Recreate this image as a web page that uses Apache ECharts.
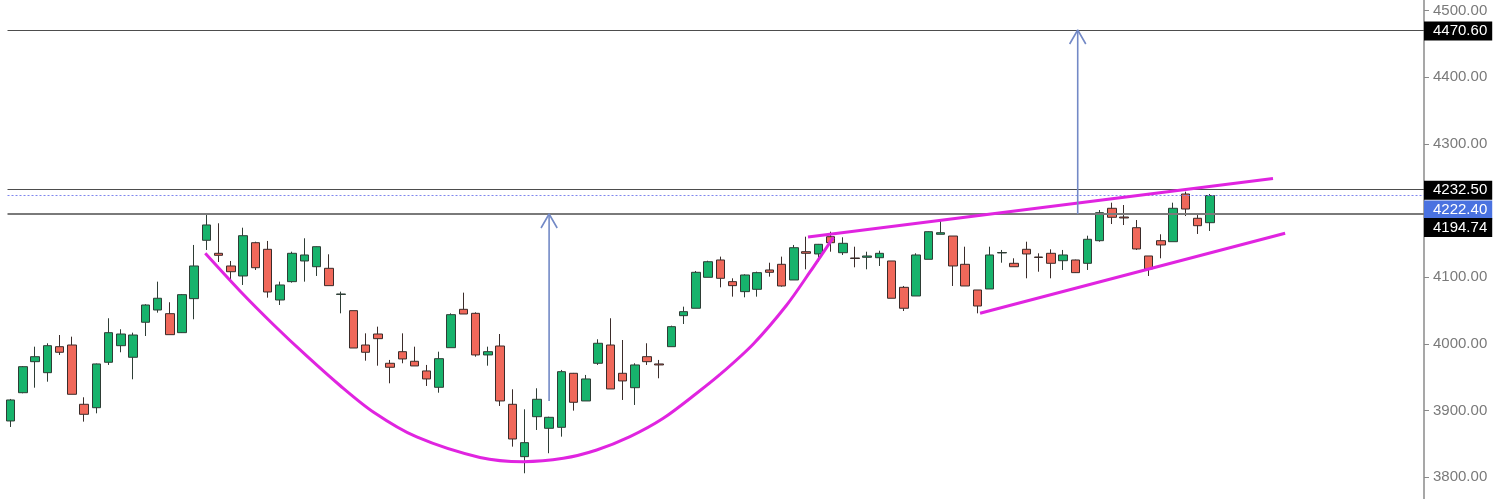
<!DOCTYPE html>
<html>
<head>
<meta charset="utf-8">
<script src="https://cdn.jsdelivr.net/npm/echarts@6/dist/echarts.min.js"></script>
<style>
html,body{margin:0;padding:0;background:#fff;overflow:hidden;}
#chart{width:1500px;height:499px;}
</style>
</head>
<body>
<div id="chart"></div>
<script>
// ---- data ----
const slotCount = 116; // 99 trading sessions + empty space to the right
const categories = Array.from({length: slotCount}, (_, i) => String(i + 1));

// [open, close, low, high]
const ohlc = [
[3884.4,3915.9,3875.4,3917.4],[3926.8,3965.8,3925.9,3966.8],[3973.3,3980.8,3934.3,3995.8],[3956.8,3997.3,3943.3,4000.9],
[3995.8,3987.4,3983.4,4013.3],[3998.3,3924.4,3924.4,4010.8],[3909.4,3894.4,3883.4,3919.9],[3904.3,3969.9,3895.9,3970.5],
[3972.4,4016.8,3968.4,4038.4],[3997.3,4014.8,3987.4,4021.9],[3979.9,4013.3,3946.9,4016.8],[4032.4,4058.3,4011.8,4059.4],
[4050.8,4068.4,4046.8,4093.3],[4045.3,4013.8,4013.8,4062.4],[4016.8,4073.8,4016.3,4074.8],[4067.8,4116.8,4036.9,4148.3],
[4155.3,4178.3,4140.8,4193.2],[4135.8,4132.8,4122.8,4180.8],[4116.8,4108.2,4093.3,4124.3],[4101.8,4162.2,4088.3,4174.2],
[4151.7,4114.2,4110.8,4153.2],[4141.8,4077.8,4069.3,4154.3],[4065.8,4088.3,4058.3,4093.3],[4093.3,4135.8,4091.8,4138.2],
[4124.3,4133.3,4093.3,4158.3],[4115.7,4145.7,4101.8,4146.2],[4113.3,4087.3,4087.3,4134.3],[4074.1,4074.8,4045.8,4078.3],
[4049.8,3993.8,3993.8,4049.8],[3998.3,3987.4,3974.8,4015.8],[4014.8,4007.8,3967.3,4025.8],[3970.9,3964.9,3940.9,3975.9],
[3988.3,3977.4,3970.9,4015.8],[3973.9,3966.9,3966.9,3995.8],[3959.4,3947.4,3936.9,3968.4],[3934.9,3977.8,3926.8,3988.3],
[3994.3,4043.8,3994.3,4045.8],[4051.8,4044.8,4044.8,4076.8],[4045.8,3983.4,3980.8,4047.3],[3983.4,3988.3,3967.3,3995.8],
[3996.8,3914.4,3906.9,4014.8],[3909.4,3857.4,3845.9,3931.9],[3830.9,3851.9,3806.0,3901.9],[3890.8,3916.9,3870.9,3933.4],
[3873.4,3889.9,3836.0,3890.8],[3874.9,3958.3,3860.9,3960.9],[3955.9,3912.4,3899.9,3956.4],[3914.4,3947.4,3914.4,3953.4],
[3970.9,4000.9,3968.4,4006.9],[3998.3,3932.4,3932.4,4038.4],[3955.9,3944.4,3915.9,4005.8],[3934.3,3968.4,3908.4,3970.9],
[3980.8,3973.3,3968.4,4000.9],[3969.9,3968.4,3948.4,3975.9],[3995.8,4025.8,3995.8,4027.3],[4042.3,4048.3,4029.8,4055.8],
[4053.4,4107.3,4053.4,4109.3],[4099.8,4123.2,4099.8,4124.7],[4125.8,4098.3,4084.8,4130.8],[4093.3,4087.3,4070.8,4098.3],
[4078.3,4103.3,4069.8,4104.3],[4081.8,4106.8,4070.8,4108.3],[4110.8,4107.3,4100.8,4121.7],[4119.3,4086.8,4085.8,4130.8],
[4095.8,4144.2,4095.8,4148.3],[4138.2,4135.8,4111.8,4160.7],[4134.8,4149.3,4123.2,4149.8],[4160.7,4151.7,4138.2,4168.2],
[4136.7,4150.8,4133.3,4159.8],[4128.8,4128.0,4114.8,4145.7],[4129.8,4131.8,4111.8,4138.2],[4129.2,4135.8,4116.8,4139.7],
[4124.3,4068.4,4068.4,4124.3],[4084.8,4053.4,4049.3,4086.8],[4071.8,4133.3,4071.8,4135.8],[4126.8,4168.2,4126.8,4168.7],
[4164.3,4166.7,4164.3,4185.7],[4161.7,4116.8,4086.8,4161.7],[4119.3,4086.8,4086.8,4145.7],[4080.8,4056.8,4045.8,4080.8],
[4082.3,4133.3,4082.3,4145.7],[4136.3,4137.0,4121.7,4140.8],[4120.8,4115.7,4115.7,4128.3],[4141.8,4134.8,4098.3,4153.2],
[4130.3,4129.5,4108.2,4135.8],[4135.8,4120.8,4098.3,4141.8],[4124.7,4133.3,4110.8,4140.8],[4125.8,4106.8,4106.3,4126.3],
[4120.8,4156.8,4110.8,4162.2],[4154.7,4196.7,4153.2,4200.7],[4203.3,4189.8,4179.7,4211.7],[4190.2,4188.8,4178.2,4208.2],
[4174.2,4142.3,4140.8,4185.7],[4131.8,4112.3,4101.8,4131.8],[4154.7,4148.3,4128.3,4164.3],[4153.2,4203.3,4153.2,4211.7],
[4224.7,4202.2,4191.7,4228.2],[4188.3,4177.2,4164.8,4193.2],[4181.7,4222.4,4169.3,4224.7]
];

// horizontal levels
const targetLevel = 4470.60;
const resistanceHigh = 4232.50;
const lastPrice = 4222.40;
const necklineLevel = 4194.74;

// y-axis range and tick labels
const yMin = 3767.4, yMax = 4515.6;
const yTicks = [3800, 3900, 4000, 4100, 4200, 4300, 4400, 4500];

// cup curve (session index, price)
const cupX = [15.90,18.74,21.46,24.19,26.91,29.63,33.18,38.35,41.89,45.16,47.89,50.61,53.33,56.06,57.97,60.69,63.42,65.32,67.23];
const cupY = [4135.8,4079.3,4029.1,3981.9,3937.6,3897.9,3860.4,3829.7,3823.4,3828.4,3840.9,3860.9,3888.4,3925.9,3954.1,3999.9,4058.3,4107.8,4159.8];

// wedge trend lines
const upperLineX = [65.16, 103.16];
const upperLineY = [4160.3, 4248.1];
const lowerLineX = [79.22, 104.15];
const lowerLineY = [4045.9, 4165.9];

// measured-move arrows
const arrow1X = 44.0, arrow1From = 3914.4, arrow1To = 4194.74;
const arrow2X = 87.2, arrow2From = 4194.74, arrow2To = 4470.6;
const headHalfWidth = 0.66, headDrop = 21;

const levelStartX = -0.26, levelEndX = slotCount - 0.5;

// ---- build ----
const zip = (xs, ys) => xs.map((x, i) => [x, ys[i]]);
const MAG = '#e024e0';
const ARROW = '#7389c6';
const FONT = '"Liberation Sans", Arial, sans-serif';

function lineSeries(data, color, width, extra) {
  return Object.assign({
    type: 'line', xAxisIndex: 1, yAxisIndex: 0, data: data,
    symbol: 'none', silent: true, animation: false,
    lineStyle: {color: color, width: width}, z: 5
  }, extra || {});
}

function arrowSeries(x, from, to) {
  return [
    lineSeries([[x, from], [x, to]], ARROW, 1.6),
    lineSeries([[x - headHalfWidth, to - headDrop], [x, to], [x + headHalfWidth, to - headDrop]], ARROW, 1.6)
  ];
}

function levelMark(value, color, width, type, boxColor, dy) {
  return [{
    coord: [levelStartX, value],
    lineStyle: {color: color, width: width, type: type},
    label: {
      show: true, position: 'end', distance: 0,
      formatter: value.toFixed(2),
      color: '#fff', backgroundColor: boxColor,
      fontFamily: FONT, fontSize: 15, lineHeight: 15,
      padding: [2, 5, 2, 9], offset: [0, dy]
    }
  }, {coord: [levelEndX, value]}];
}

const series = [
  {
    type: 'candlestick', xAxisIndex: 0, yAxisIndex: 0, data: ohlc,
    barWidth: 9, animation: false, silent: true, z: 3,
    itemStyle: {
      color: '#17b36c', color0: '#f0685a',
      borderColor: '#2e3d35', borderColor0: '#3b2c2a', borderWidth: 1
    }
  },
  {
    type: 'line', xAxisIndex: 1, yAxisIndex: 0, data: [], symbol: 'none', silent: true, animation: false,
    markLine: {
      symbol: ['none', 'none'], silent: true, animation: false, z: 4,
      data: [
        levelMark(targetLevel, '#4d4d4d', 1.2, 'solid', '#000', 1),
        levelMark(resistanceHigh, '#4d4d4d', 1.2, 'solid', '#000', 1.5),
        levelMark(lastPrice, '#7f86ee', 1, [2, 2], '#4a72e0', 14.5),
        levelMark(necklineLevel, '#7a7a7a', 2, 'solid', '#000', 13.5)
      ]
    }
  },
  lineSeries(zip(cupX, cupY), MAG, 3, {smooth: 0.3}),
  lineSeries(zip(upperLineX, upperLineY), MAG, 3),
  lineSeries(zip(lowerLineX, lowerLineY), MAG, 3)
].concat(arrowSeries(arrow1X, arrow1From, arrow1To), arrowSeries(arrow2X, arrow2From, arrow2To));

const chart = echarts.init(document.getElementById('chart'), null, {renderer: 'canvas'});
chart.setOption({
  backgroundColor: '#ffffff',
  animation: false,
  grid: {left: 4.58, right: 76, top: 0, bottom: 0, containLabel: false},
  xAxis: [
    {type: 'category', data: categories, boundaryGap: true, show: false},
    {type: 'value', min: -0.5, max: slotCount - 0.5, show: false}
  ],
  yAxis: [{
    type: 'value', position: 'right', min: yMin, max: yMax,
    axisLine: {show: true, onZero: false, lineStyle: {color: '#8a8a8a', width: 1.5}},
    axisTick: {show: true, length: 5, customValues: yTicks, lineStyle: {color: '#8a8a8a'}},
    splitLine: {show: false},
    axisLabel: {
      customValues: yTicks,
      color: '#7a7a7a', fontSize: 15, fontFamily: FONT, margin: 9, padding: [6, 0, 0, 0],
      formatter: v => Number(v).toFixed(2)
    }
  }],
  series: series
});
</script>
</body>
</html>
